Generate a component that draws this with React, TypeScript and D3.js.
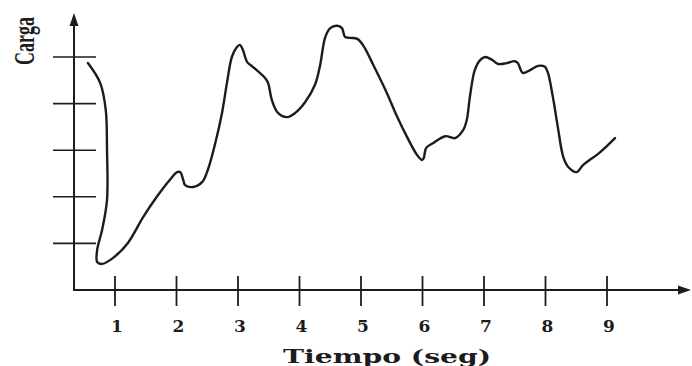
import React from "react";
import * as d3 from "d3";

const W = 692;
const H = 366;

// curva de carga (tiempo en seg, carga en divisiones)
const tiempo = [
  0.56, 0.76, 0.85, 0.87, 0.87, 0.79, 0.71, 0.71, 0.79, 0.97,
  1.21, 1.46, 1.68, 1.89, 2.01, 2.06, 2.11, 2.14, 2.27, 2.42,
  2.51, 2.63, 2.74, 2.82, 2.9, 2.98, 3.03, 3.08, 3.15, 3.24,
  3.44, 3.49, 3.55, 3.65, 3.8, 3.93, 4.09, 4.25, 4.33, 4.42,
  4.5, 4.61, 4.69, 4.74, 4.82, 4.94, 5.03, 5.2, 5.42, 5.59,
  5.75, 5.91, 5.99, 6.02, 6.06, 6.17, 6.37, 6.53, 6.66, 6.72,
  6.77, 6.85, 6.94, 7.02, 7.13, 7.23, 7.37, 7.5, 7.55, 7.63,
  7.75, 7.88, 7.99, 8.04, 8.12, 8.2, 8.29, 8.37, 8.51, 8.61,
  8.89, 9.13,
];
const carga = [
  4.87, 4.44, 3.86, 3.0, 1.93, 1.29, 0.86, 0.6, 0.56, 0.69,
  1.01, 1.57, 2.0, 2.36, 2.53, 2.53, 2.36, 2.25, 2.21, 2.32,
  2.58, 3.15, 3.8, 4.44, 5.0, 5.21, 5.26, 5.15, 4.89, 4.79,
  4.55, 4.44, 4.08, 3.8, 3.71, 3.8, 4.03, 4.4, 4.79, 5.43,
  5.62, 5.67, 5.62, 5.43, 5.41, 5.39, 5.26, 4.83, 4.23, 3.71,
  3.28, 2.9, 2.79, 2.83, 3.05, 3.15, 3.3, 3.26, 3.43, 3.65,
  4.14, 4.72, 4.94, 5.0, 4.94, 4.85, 4.87, 4.91, 4.87, 4.66,
  4.72, 4.81, 4.79, 4.66, 4.14, 3.5, 2.85, 2.64, 2.53, 2.68,
  2.96, 3.26,
];
const xTicks = [1, 2, 3, 4, 5, 6, 7, 8, 9];
const yTicks = [1, 2, 3, 4, 5];

const ink = "#1c1c1c";

export default function App() {
  const x = d3.scaleLinear().domain([0, 10]).range([53.5, 668.5]);
  const y = d3.scaleLinear().domain([0, 5]).range([290, 57]);

  const pts: [number, number][] = tiempo.map((t, i) => [t, carga[i]]);
  const line = d3
    .line<[number, number]>()
    .x((d) => x(d[0]))
    .y((d) => y(d[1]))
    .curve(d3.curveCatmullRom.alpha(0.5));

  const x0 = 74;
  const y0 = y(0);
  const xEnd = 691;
  const yTop = 13;

  return (
    <svg
      width={W}
      height={H}
      style={{ position: "absolute", left: 0, top: 0, background: "#fff" }}
    >
      <rect width={W} height={H} fill="#fff" />
      {/* ejes */}
      <line x1={x0} y1={y0} x2={x0} y2={yTop + 10} stroke={ink} strokeWidth={2} />
      <path d={`M${x0},${yTop} L${x0 - 4.5},${yTop + 13} L${x0 + 4.5},${yTop + 13} Z`} fill={ink} />
      <line x1={x0 - 1} y1={y0} x2={xEnd - 10} y2={y0} stroke={ink} strokeWidth={2} />
      <path d={`M${xEnd},${y0} L${xEnd - 13},${y0 - 4.5} L${xEnd - 13},${y0 + 4.5} Z`} fill={ink} />

      {yTicks.map((v) => (
        <line key={v} x1={53} x2={96} y1={y(v)} y2={y(v)} stroke={ink} strokeWidth={1.6} />
      ))}
      {xTicks.map((v) => (
        <g key={v}>
          <line x1={x(v)} x2={x(v)} y1={y0 - 14} y2={y0 + 16} stroke={ink} strokeWidth={1.8} />
          <text
            x={x(v) + 2}
            y={332}
            textAnchor="middle"
            fontFamily="DejaVu Serif"
            fontWeight="bold"
            fontSize={17}
            fill={ink}
          >
            {v}
          </text>
        </g>
      ))}

      <path d={line(pts) ?? ""} fill="none" stroke={ink} strokeWidth={2.4} strokeLinejoin="round" strokeLinecap="round" />

      <text
        x={387}
        y={363}
        textAnchor="middle"
        fontFamily="DejaVu Serif"
        fontWeight="bold"
        fontSize={19}
        textLength={208}
        lengthAdjust="spacingAndGlyphs"
        fill={ink}
      >
        Tiempo (seg)
      </text>
      <g transform="translate(34,41) rotate(-90) scale(0.62,1)">
        <text
          textAnchor="middle"
          fontFamily="Liberation Serif"
          fontWeight="bold"
          fontSize={29}
          fill={ink}
        >
          Carga
        </text>
      </g>
    </svg>
  );
}
